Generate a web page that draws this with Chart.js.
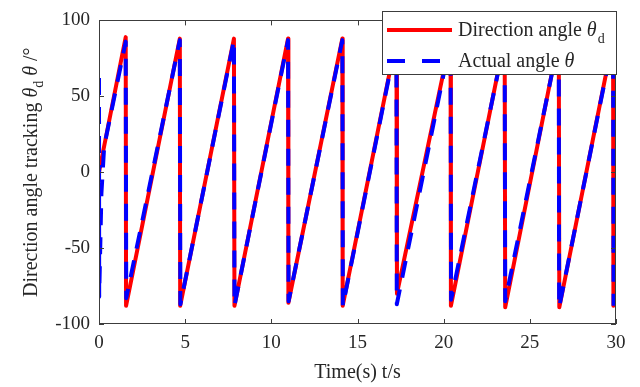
<!DOCTYPE html>
<html>
<head>
<meta charset="utf-8">
<script src="https://cdn.jsdelivr.net/npm/chart.js@4"></script>
<style>
  html, body { margin: 0; padding: 0; background: #fff; }
  #wrap { width: 640px; height: 387px; }
</style>
</head>
<body>
<div id="wrap"><canvas id="angleChart" width="640" height="387"></canvas></div>
<script>
// direction angle theta_d (red), vertices
const desiredT = [0, 1.55, 1.57, 4.69, 4.71, 7.83, 7.86, 10.97, 10.99, 14.12, 14.14, 17.26, 17.29, 20.40, 20.42, 23.54, 23.57, 26.68, 26.71, 29.83, 29.85, 30];
const desiredA = [0, 89, -88, 88, -88, 88, -88, 88, -86, 88, -88, 88, -80, 88, -88, 88, -89, 88, -89, 88, -88, -82];

// actual angle theta (blue dashed)
const actualT = [0, 0.01, 0.14, 0.3, 1.55, 1.58, 4.69, 4.72, 7.83, 7.86, 10.97, 11.0, 14.12, 14.15, 17.26, 17.28, 20.40, 20.43, 23.54, 23.57, 26.68, 26.70, 29.83, 29.86];
const actualA = [62, -82, -14, 17, 86, -83, 87, -87, 87, -88, 87, -85, 87, -88, 87, -87, 87, -84, 87, -85, 87, -89, 87, -88];

const xTicks = [0, 5, 10, 15, 20, 25, 30];
const yTicks = [-100, -50, 0, 50, 100];

const serif = '"Liberation Serif", "Times New Roman", serif';

function pts(ts, vs) {
  return ts.map((t, i) => ({ x: t, y: vs[i] }));
}

// frame, inward ticks, axis titles and the boxed legend (MATLAB look)
const matlabBits = {
  id: 'matlabBits',
  afterDraw(chart) {
    const ctx = chart.ctx;
    const a = chart.chartArea;
    const x = chart.scales.x, y = chart.scales.y;
    ctx.save();
    ctx.strokeStyle = '#3c3c3c';
    ctx.lineWidth = 1;
    ctx.setLineDash([]);
    ctx.strokeRect(Math.round(a.left) + 0.5, Math.round(a.top) + 0.5,
                   Math.round(a.width) - 1, Math.round(a.height) - 1);

    ctx.beginPath();
    xTicks.forEach(v => {
      const px = Math.round(x.getPixelForValue(v)) + 0.5;
      ctx.moveTo(px, a.bottom); ctx.lineTo(px, a.bottom - 5);
      ctx.moveTo(px, a.top); ctx.lineTo(px, a.top + 5);
    });
    yTicks.forEach(v => {
      const py = Math.round(y.getPixelForValue(v)) + 0.5;
      ctx.moveTo(a.left, py); ctx.lineTo(a.left + 5, py);
      ctx.moveTo(a.right, py); ctx.lineTo(a.right - 5, py);
    });
    ctx.stroke();

    // x title
    ctx.fillStyle = '#262626';
    ctx.font = '20px ' + serif;
    ctx.textAlign = 'center';
    ctx.textBaseline = 'alphabetic';
    ctx.fillText('Time(s) t/s', (a.left + a.right) / 2, 378);

    // y title, rotated, with subscript
    const parts = [
      ['Direction angle tracking ', '20px ' + serif, 0],
      ['\u03b8', 'italic 20px ' + serif, 0],
      ['d', '14px ' + serif, 6],
      [' ', '20px ' + serif, 0],
      ['\u03b8', 'italic 20px ' + serif, 0],
      [' /\u00b0', '20px ' + serif, 0]
    ];
    let total = 0;
    parts.forEach(p => { ctx.font = p[1]; total += ctx.measureText(p[0]).width; });
    ctx.save();
    ctx.translate(37, (a.top + a.bottom) / 2);
    ctx.rotate(-Math.PI / 2);
    ctx.textAlign = 'left';
    let cx = -total / 2;
    parts.forEach(p => {
      ctx.font = p[1];
      ctx.fillText(p[0], cx, p[2]);
      cx += ctx.measureText(p[0]).width;
    });
    ctx.restore();

    // legend box
    const L = 382, T = 11, R = 617, B = 75;
    ctx.fillStyle = '#fff';
    ctx.fillRect(L, T, R - L, B - T);
    ctx.strokeStyle = '#3c3c3c';
    ctx.strokeRect(L + 0.5, T + 0.5, R - L - 1, B - T - 1);

    const ds = chart.data.datasets;
    ctx.lineWidth = 4;
    ctx.lineCap = 'butt';
    ctx.strokeStyle = ds[0].borderColor;
    ctx.beginPath(); ctx.moveTo(387, 30); ctx.lineTo(452, 30); ctx.stroke();
    ctx.strokeStyle = ds[1].borderColor;
    ctx.setLineDash([18, 17]);
    ctx.beginPath(); ctx.moveTo(387, 61); ctx.lineTo(452, 61); ctx.stroke();
    ctx.setLineDash([]);

    ctx.fillStyle = '#262626';
    ctx.textAlign = 'left';
    ctx.font = '20px ' + serif;
    let lx = 458;
    ctx.fillText('Direction angle ', lx, 36);
    lx += ctx.measureText('Direction angle ').width;
    ctx.font = 'italic 20px ' + serif;
    ctx.fillText('\u03b8', lx, 36);
    lx += ctx.measureText('\u03b8').width;
    ctx.font = '14px ' + serif;
    ctx.fillText('d', lx + 1, 43);

    ctx.font = '20px ' + serif;
    lx = 458;
    ctx.fillText('Actual angle ', lx, 67);
    lx += ctx.measureText('Actual angle ').width;
    ctx.font = 'italic 20px ' + serif;
    ctx.fillText('\u03b8', lx, 67);
    ctx.restore();
  }
};

new Chart(document.getElementById('angleChart'), {
  type: 'line',
  data: {
    datasets: [
      {
        label: 'Direction angle \u03b8d',
        data: pts(desiredT, desiredA),
        borderColor: '#ff0000',
        borderWidth: 4,
        borderJoinStyle: 'round',
        pointRadius: 0,
        tension: 0,
        fill: false,
        order: 2
      },
      {
        label: 'Actual angle \u03b8',
        data: pts(actualT, actualA),
        borderColor: '#0000ff',
        borderWidth: 4,
        borderDash: [17, 12],
        borderJoinStyle: 'round',
        pointRadius: 0,
        tension: 0,
        fill: false,
        order: 1
      }
    ]
  },
  options: {
    responsive: false,
    animation: false,
    layout: { padding: { top: 12, right: 24, left: 0, bottom: 0 } },
    plugins: {
      legend: { display: false },
      tooltip: { enabled: false }
    },
    scales: {
      x: {
        type: 'linear',
        min: 0, max: 30,
        afterFit: s => { s.height = 63; },
        afterBuildTicks: s => { s.ticks = xTicks.map(v => ({ value: v })); },
        grid: { display: false, drawTicks: false },
        border: { display: false },
        ticks: { color: '#262626', padding: 8, font: { family: serif, size: 19 }, maxRotation: 0 }
      },
      y: {
        type: 'linear',
        min: -100, max: 100,
        afterFit: s => { s.width = 99; },
        afterBuildTicks: s => { s.ticks = yTicks.map(v => ({ value: v })); },
        grid: { display: false, drawTicks: false },
        border: { display: false },
        ticks: { color: '#262626', padding: 9, font: { family: serif, size: 19 } }
      }
    }
  },
  plugins: [matlabBits]
});
</script>
</body>
</html>
